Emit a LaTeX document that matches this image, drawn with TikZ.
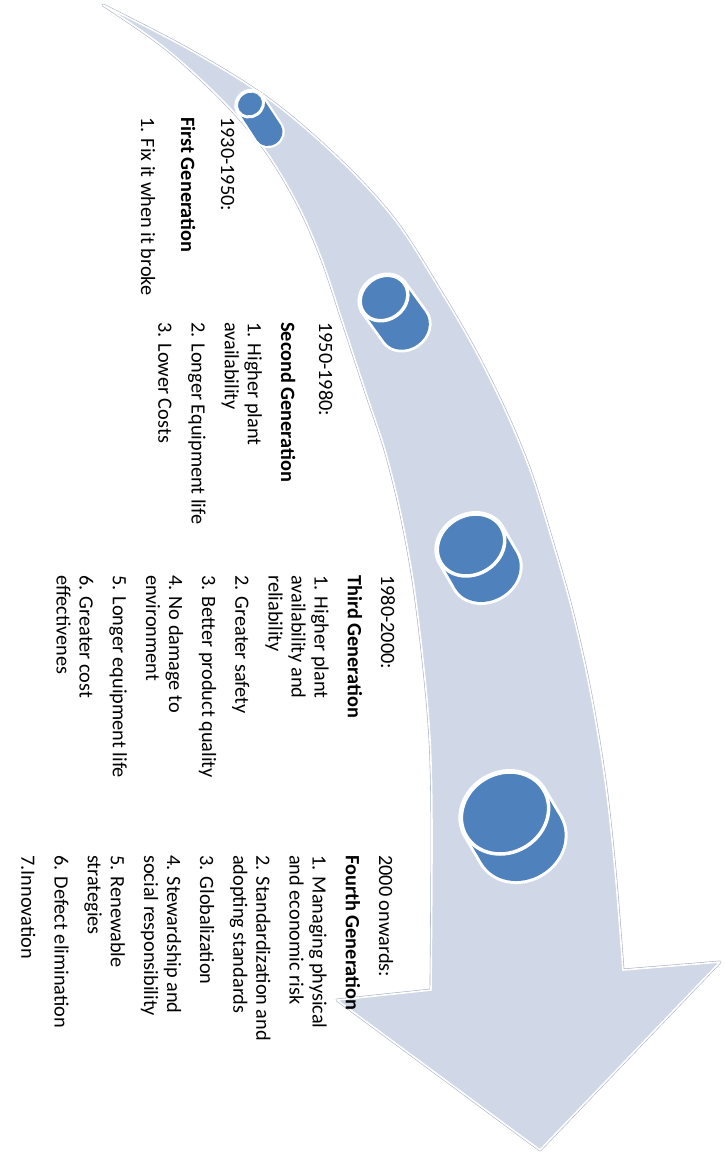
\documentclass[tikz,border=0pt]{standalone}
\usepackage{fontspec}
\setmainfont{Carlito}
\definecolor{arrowfill}{RGB}{208,215,230}
\definecolor{arrowedge}{RGB}{170,178,195}
\definecolor{canblue}{RGB}{79,129,189}
% extra space between the items of a list
\newcommand\genskip{\\[10.2pt]}
\begin{document}
\begin{tikzpicture}[x=1pt,y=-1pt,
  gentext/.style={rotate=-90, anchor=base west, inner sep=0pt,
    font=\fontsize{20.3}{23}\selectfont},
  % a tilted can: top ellipse, body, bottom ellipse with a white rim
  pics/gencan/.style n args={5}{code={
    \path[draw=white, fill=white, line width=#4]
      (0,0) ellipse[x radius=#2, y radius=#1]
      (#3,0) ellipse[x radius=#2, y radius=#1]
      (0,-#1) rectangle (#3,#1);
    \fill[canblue] (#3,0) ellipse[x radius=#2, y radius=#1];
    \fill[canblue] (0,-#1) rectangle (#3,#1);
    \fill[canblue] (0,0) ellipse[x radius=#2, y radius=#1];
    \draw[white, line width=#5] (0,0) ellipse[x radius=#2, y radius=#1];
  }},
]
\useasboundingbox (0,0) rectangle (724,1153);

% the curved timeline arrow
\path[fill=arrowfill, draw=white, line width=1.6pt, line join=round,
      preaction={draw=arrowedge, line width=2.8pt, line join=round}]
  plot[smooth, tension=0.55] coordinates {(103,5) (190,50) (270,100) (340,160)
     (395,220) (440,290) (475,350) (505,410) (530,470) (552,540) (572,610)
     (590,690) (605,780) (615,870) (623,970)}
  -- (720,962) -- (540,1150) -- (337,1000)
  -- plot[smooth, tension=0.55] coordinates {(431,990) (432,830) (430,740)
     (423,660) (413,580) (400,510) (385,450) (365,390) (342,320) (322,260)
     (298,205) (265,150) (222,100) (165,48) (103,5)}
  -- cycle;

% milestones on the arrow
\pic[rotate=-56.8] at (250,104) {gencan={14}{12.5}{34.7}{4.5pt}{3pt}};
\pic[rotate=-54.1] at (384,298) {gencan={25}{21.5}{35.8}{5.5pt}{3.5pt}};
\pic[rotate=-60]   at (471,545) {gencan={35}{29.5}{30}{6pt}{3.5pt}};
\pic[rotate=-59.4] at (505,813) {gencan={45}{39.5}{31.4}{6pt}{3.5pt}};

% descriptions of the four generations
\node[gentext] (gen1) at (221,117) {\parbox[t]{300pt}{\raggedright
  1930-1950:\\[17pt]
  \textbf{First Generation}\\[17pt]
  1. Fix it when it broke}};

\node[gentext] (gen2) at (319,322) {\parbox[t]{300pt}{\raggedright
  1950-1980:\\[15pt]
  \textbf{Second Generation}\genskip
  1. Higher plant\\
  availability\genskip
  2. Longer Equipment life\genskip
  3. Lower Costs}};

\node[gentext] (gen3) at (381,575) {\parbox[t]{300pt}{\raggedright
  1980-2000:\genskip
  \textbf{Third Generation}\genskip
  1. Higher plant\\
  availability and\\
  reliability\genskip
  2. Greater safety\genskip
  3. Better product quality\genskip
  4. No damage to\\
  environment\genskip
  5. Longer equipment life\genskip
  6. Greater cost\\
  effectivenes}};

\node[gentext] (gen4) at (379,855) {\parbox[t]{300pt}{\raggedright
  2000 onwards:\genskip
  \textbf{Fourth Generation}\genskip
  1. Managing physical\\
  and economic risk\genskip
  2. Standardization and\\
  adopting standards\genskip
  3. Globalization\genskip
  4. Stewardship and\\
  social responsibility\genskip
  5. Renewable\\
  strategies\genskip
  6. Defect elimination\genskip
  7.Innovation}};
\end{tikzpicture}
\end{document}
